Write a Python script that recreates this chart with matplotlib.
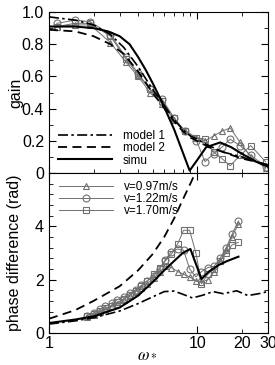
import numpy as np
import matplotlib
matplotlib.use("Agg")
import matplotlib.pyplot as plt
from matplotlib.ticker import FixedLocator, MultipleLocator, NullFormatter

plt.rcParams['font.family'] = ['Liberation Sans', 'DejaVu Sans']
plt.rcParams['mathtext.fontset'] = 'stix'

# gain: models and simulation
gm_x = [1, 1.5, 2, 2.6, 3.2, 4, 5, 5.8, 7, 8, 9, 10, 12, 15, 20, 25, 30]
gain_model1 = [0.97, 0.95, 0.92, 0.86, 0.78, 0.66, 0.52, 0.44, 0.33, 0.27, 0.23, 0.21, 0.17, 0.13, 0.1, 0.07, 0.05]
gain_model2 = [0.89, 0.88, 0.85, 0.8, 0.74, 0.63, 0.5, 0.42, 0.32, 0.26, 0.22, 0.2, 0.16, 0.13, 0.09, 0.07, 0.05]
gs_x = [1, 1.5, 2, 2.5, 3, 3.5, 4, 4.5, 5, 5.8, 7, 8.9, 10, 11.5, 14.3, 17, 20, 25, 30]
gain_simu = [0.91, 0.91, 0.9, 0.88, 0.85, 0.8, 0.72, 0.64, 0.56, 0.44, 0.27, 0.015, 0.08, 0.16, 0.19, 0.16, 0.12, 0.07, 0.04]

# gain: experiments
ge_x = [1.13, 1.5, 1.9, 2.6, 3.3, 4.0, 4.8, 5.8, 7.0, 8.3, 9.9, 11.3, 12.9, 14.7, 16.7, 19.5, 23, 29]
gain_v097 = [0.91, 0.92, 0.92, 0.81, 0.69, 0.6, 0.5, 0.43, 0.33, 0.26, 0.22, 0.2, 0.23, 0.26, 0.28, 0.19, 0.1, 0.03]
gain_v122 = [0.93, 0.95, 0.94, 0.86, 0.72, 0.62, 0.52, 0.46, 0.34, 0.26, 0.2, 0.07, 0.12, 0.16, 0.21, 0.17, 0.11, 0.04]
gain_v170 = [0.91, 0.93, 0.93, 0.85, 0.71, 0.61, 0.52, 0.45, 0.34, 0.26, 0.22, 0.21, 0.13, 0.09, 0.045, 0.11, 0.17, 0.07]

# phase: models and simulation
pm1_x = [1, 1.5, 2, 3, 4, 5, 6, 7, 8, 9.3, 11, 12.8, 15, 18.5, 22, 26, 30]
phase_model1 = [0.33, 0.45, 0.57, 0.82, 1.1, 1.35, 1.55, 1.57, 1.45, 1.31, 1.42, 1.55, 1.47, 1.58, 1.4, 1.47, 1.55]
pm2_x = [1, 1.5, 2, 3, 4, 5, 6, 7, 8, 9, 10]
phase_model2 = [0.53, 0.85, 1.2, 1.75, 2.35, 2.95, 3.6, 4.3, 5.0, 5.6, 6.15]
ps_x = [1, 1.5, 2, 3, 4, 5, 6, 7, 8, 9, 10.7, 12, 14, 16, 19]
phase_simu = [0.37, 0.5, 0.62, 0.95, 1.4, 1.9, 2.35, 2.7, 3.0, 3.15, 2.02, 2.3, 2.55, 2.7, 2.86]

# phase: experiments
pe_x = [1.8, 2.0, 2.2, 2.4, 2.65, 2.9, 3.2, 3.5, 3.85, 4.2, 4.6, 5.1, 5.6, 6.1, 6.7,
        7.4, 8.1, 8.9, 9.8, 10.7, 11.8, 13, 14.3, 15.7, 17.2, 19]
phase_v097 = [0.6, 0.68, 0.78, 0.88, 1.0, 1.1, 1.25, 1.4, 1.55, 1.7, 1.85, 2.05, 2.3, 2.5, 2.45,
              2.3, 2.2, 2.1, 1.95, 1.9, 2.0, 2.3, 2.7, 3.1, 3.6, 4.1]
phase_v122 = [0.65, 0.75, 0.88, 1.0, 1.12, 1.25, 1.35, 1.48, 1.62, 1.78, 1.95, 2.15, 2.4, 2.75, 3.05,
              3.15, 3.1, 2.4, 2.1, 2.3, 2.45, 2.5, 2.8, 3.2, 3.7, 4.2]
phase_v170 = [0.65, 0.72, 0.82, 0.92, 1.02, 1.15, 1.28, 1.42, 1.58, 1.75, 1.95, 2.2, 2.45, 2.7, 2.95,
              3.35, 3.85, 3.85, 3.0, 1.85, 2.2, 2.4, 2.7, 3.0, 3.3, 3.4]

labels_v = ['v=0.97m/s', 'v=1.22m/s', 'v=1.70m/s']
markers_v = ['^', 'o', 's']
gray = '#707070'

fig = plt.figure(figsize=(2.75, 3.65), dpi=100)
ax1 = fig.add_axes([0.178, 0.526, 0.796, 0.441])
ax2 = fig.add_axes([0.178, 0.088, 0.796, 0.438])

# top panel
for y, m in zip([gain_v097, gain_v122, gain_v170], markers_v):
    ax1.plot(ge_x, y, color=gray, lw=0.7, marker=m, ms=5, mfc='none', mec=gray, mew=0.8)
ax1.plot(gm_x, gain_model1, color='black', lw=1.2, ls=(0, (6, 2, 1.5, 2)), label='model 1')
ax1.plot(gm_x, gain_model2, color='black', lw=1.3, ls=(0, (5, 3)), label='model 2')
ax1.plot(gs_x, gain_simu, color='black', lw=1.5, label='simu')
ax1.legend(loc='lower left', frameon=False, fontsize=8.5, handlelength=4.6,
           borderaxespad=0.15, labelspacing=0.02, handletextpad=0.9, bbox_to_anchor=(0.01, 0.0))

# bottom panel
for y, m, lab in zip([phase_v097, phase_v122, phase_v170], markers_v, labels_v):
    ax2.plot(pe_x, y, color=gray, lw=0.7, marker=m, ms=5, mfc='none', mec=gray, mew=0.8, label=lab)
ax2.plot(pm1_x, phase_model1, color='black', lw=1.2, ls=(0, (6, 2, 1.5, 2)))
ax2.plot(pm2_x, phase_model2, color='black', lw=1.3, ls=(0, (5, 3)))
ax2.plot(ps_x, phase_simu, color='black', lw=1.5)
leg = ax2.legend(loc='upper left', frameon=False, fontsize=8.5, handlelength=4.6,
                 borderaxespad=0.25, labelspacing=0.02, handletextpad=0.9,
                 bbox_to_anchor=(0.01, 1.0))

for ax in (ax1, ax2):
    ax.set_xscale('log')
    ax.set_xlim(1, 30)
    ax.tick_params(which='both', direction='in', top=True, right=True, labelsize=11.5)
    ax.tick_params(which='major', length=5)
    ax.tick_params(which='minor', length=3)
    ax.xaxis.set_major_locator(FixedLocator([1, 10]))
    ax.xaxis.set_minor_locator(FixedLocator([2, 3, 4, 5, 6, 7, 8, 9, 20, 30]))

ax1.set_ylim(0, 1)
ax1.set_yticks([0, 0.2, 0.4, 0.6, 0.8, 1.0])
ax1.set_yticklabels(['0', '0.2', '0.4', '0.6', '0.8', '1.0'])
ax1.yaxis.set_minor_locator(MultipleLocator(0.1))
ax1.xaxis.set_major_formatter(NullFormatter())
ax1.xaxis.set_minor_formatter(NullFormatter())
ax1.set_ylabel('gain', fontsize=11.5)
ax1.yaxis.set_label_coords(-0.115, 0.5)

ax2.set_ylim(0, 6)
ax2.set_yticks([0, 2, 4])
ax2.yaxis.set_minor_locator(MultipleLocator(0.4))
ax2.set_xticks([1, 10])
ax2.set_xticklabels(['1', '10'])
ax2.set_xticks([20, 30], labels=['20', '30'], minor=True)
ax2.tick_params(axis='x', which='both', pad=2)
ax2.set_ylabel('phase difference (rad)', fontsize=11.5)
ax2.yaxis.set_label_coords(-0.125, 0.5)
ax2.set_xlabel(r'$\omega_*$', fontsize=12)
ax2.xaxis.set_label_coords(0.45, -0.085)

fig.savefig('out.png', dpi=100)
